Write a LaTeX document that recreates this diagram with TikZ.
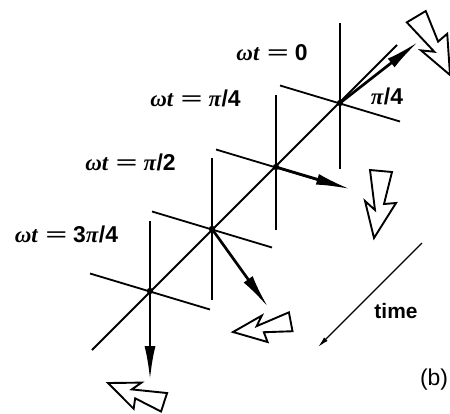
\documentclass[tikz,border=0pt]{standalone}
\usepackage{fontspec}
\usepackage{graphicx}
\setmainfont{Liberation Serif}
\setsansfont{Liberation Sans}
\usetikzlibrary{arrows.meta,calc}
\newcommand{\weq}{\hspace{0.3em}\scalebox{1.7}[1.0]{=}\hspace{0.25em}}
\begin{document}
\begin{tikzpicture}[x=1bp,y=-1bp,
  axis/.style={line width=1.8bp},
  vec/.style={line width=2.7bp,-{Latex[length=34bp,width=11bp]}},
  boltline/.style={line width=1.9bp,line join=miter},
  lab/.style={font=\fontsize{23}{26}\selectfont\bfseries,inner sep=0pt},
  bolt/.pic={\draw[boltline] (-4,-68) -- (18,-66) -- (10,-34) -- (22,-35) -- (0,0) -- (-9,-37) -- (1,-28) -- cycle;}
]
\useasboundingbox (0,0) rectangle (450,413);
\clip (0,0) rectangle (450,413);
\fill[white] (0,0) rectangle (450,413);
% centres
\coordinate (c0) at (340,103);
\coordinate (c1) at (276,167);
\coordinate (c2) at (212,229);
\coordinate (c3) at (150,291);
% main diagonal
\coordinate (dA) at (92,350);
\coordinate (dB) at (397,45);
\draw[axis] (dA) -- (dB);
% vertical lines
\draw[axis] ($(c0)+(0,-80)$) -- ($(c0)+(0,66)$);
\draw[axis] ($(c1)+(0,-72)$) -- ($(c1)+(0,63)$);
\draw[axis] ($(c2)+(0,-71)$) -- ($(c2)+(0,71)$);
\draw[axis] ($(c3)+(0,-70)$) -- ($(c3)+(0,40)$);
% tilted cross lines
\foreach \c in {c0,c1,c2,c3}{
  \draw[axis] ($(\c)+(-60,-17.5)$) -- ($(\c)+(60,18.5)$);
  \fill (\c) circle (3.2);
}
% vectors
\coordinate (v0) at (418,42);
\coordinate (v1) at (350,189);
\coordinate (v2) at (268,307);
\coordinate (v3) at (150,380);
\draw[vec] (c0) -- (v0);
\draw[vec] (c1) -- (v1);
\draw[vec] (c2) -- (v2);
\draw[vec] (c3) -- (v3);
% hollow bolt arrows
\pic[rotate=36] at (450,75) {bolt};
\pic at (374,238) {bolt};
\pic[rotate=-74,scale=0.87] at (233,332) {bolt};
\pic[rotate=-103,scale=0.88] at (108,383) {bolt};
% labels
\node[lab] (l0) at (272,53) {\textit{ωt}\weq\textsf{0}};
\node[lab] (l1) at (195.5,98) {\textit{ωt}\weq\textit{π}\textsf{/4}};
\node[lab] (l2) at (130.5,162) {\textit{ωt}\weq\textit{π}\textsf{/2}};
\node[lab] (l3) at (66.5,234) {\textit{ωt}\weq\textsf{3}\textit{π}\textsf{/4}};
\node[lab] (la) at (387,96) {\textit{π}\textsf{/4}};
% time arrow
\coordinate (t0) at (422,243);
\coordinate (t1) at (318,347);
\draw[line width=1.3bp,-{Latex[length=11bp,width=5bp]}] (t0) -- (t1);
\node[lab,font=\fontsize{21}{24}\selectfont\sffamily\bfseries] (tl) at (396,311) {time};
\node[lab,font=\fontsize{23}{26}\selectfont\sffamily] (bl) at (434,380) {(b)};
\end{tikzpicture}
\end{document}
